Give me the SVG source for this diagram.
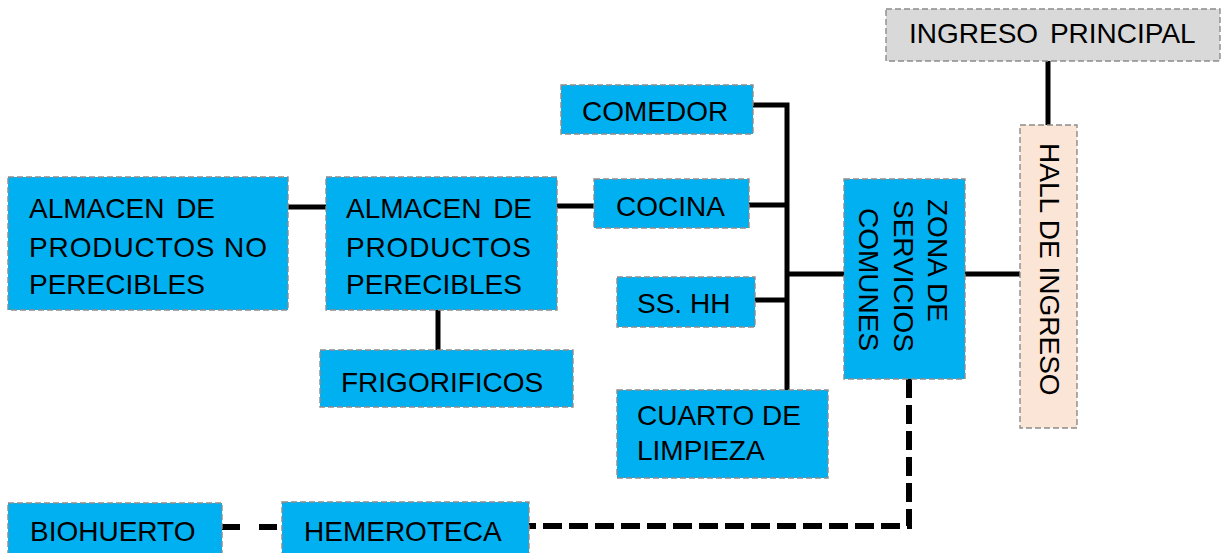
<svg xmlns="http://www.w3.org/2000/svg" width="1221" height="553" viewBox="0 0 1221 553">
<style>
.box{stroke:#8c8c8c;stroke-width:1.4;stroke-dasharray:6,3}
.blue{fill:#00B0F0}
.gray{fill:#D9D9D9}
.peach{fill:#FBE5D6}
.t{font-family:"Liberation Sans",Arial,sans-serif;font-size:28px;fill:#000}
.c{stroke:#000;stroke-width:5;fill:none}
.d{stroke:#000;stroke-width:6;fill:none}
</style>
<rect width="1221" height="553" fill="#fff"/>
<g id="connectors">
<path class="c" d="M1048,61 V125"/>
<path class="c" d="M965,274 H1020"/>
<path class="c" d="M787,274 H844"/>
<path class="c" d="M753,105 H787 V390"/>
<path class="c" d="M749,205 H787"/>
<path class="c" d="M755,300 H787"/>
<path class="c" d="M288,207 H326"/>
<path class="c" d="M557,206 H594"/>
<path class="c" d="M438,310 V350"/>
<path class="d" d="M909,379 V526 H529" stroke-dasharray="19,7"/>
<path class="d" d="M222,527 H282" stroke-dasharray="18,19"/>
</g>
<g id="ingreso-principal">
<rect class="box gray" x="886" y="9" width="334" height="52"/>
<text class="t" x="909" y="43" word-spacing="4">INGRESO PRINCIPAL</text>
</g>
<g id="hall-ingreso">
<rect class="box peach" x="1020" y="125" width="57" height="303"/>
<text class="t" transform="translate(1040,143) rotate(90)">HALL DE INGRESO</text>
</g>
<g id="zona-servicios">
<rect class="box blue" x="844" y="179" width="121" height="200"/>
<text class="t" transform="translate(928,199) rotate(90)">ZONA DE</text>
<text class="t" transform="translate(894,200) rotate(90)">SERVICIOS</text>
<text class="t" transform="translate(859,208) rotate(90)">COMUNES</text>
</g>
<g id="comedor">
<rect class="box blue" x="561" y="85" width="192" height="49"/>
<text class="t" x="582" y="121">COMEDOR</text>
</g>
<g id="cocina">
<rect class="box blue" x="594" y="179" width="155" height="49"/>
<text class="t" x="616" y="216">COCINA</text>
</g>
<g id="sshh">
<rect class="box blue" x="617" y="277" width="138" height="50"/>
<text class="t" x="637" y="313">SS. HH</text>
</g>
<g id="cuarto-limpieza">
<rect class="box blue" x="617" y="390" width="211" height="88"/>
<text class="t" x="637" y="425">CUARTO DE</text>
<text class="t" x="637" y="460">LIMPIEZA</text>
</g>
<g id="almacen-no-perecibles">
<rect class="box blue" x="8" y="177" width="280" height="133"/>
<text class="t" x="29" y="218" word-spacing="4">ALMACEN DE</text>
<text class="t" x="29" y="257" textLength="238" lengthAdjust="spacing">PRODUCTOS NO</text>
<text class="t" x="29" y="294">PERECIBLES</text>
</g>
<g id="almacen-perecibles">
<rect class="box blue" x="326" y="177" width="231" height="133"/>
<text class="t" x="346" y="218" word-spacing="4">ALMACEN DE</text>
<text class="t" x="346" y="257" textLength="185" lengthAdjust="spacing">PRODUCTOS</text>
<text class="t" x="346" y="294">PERECIBLES</text>
</g>
<g id="frigorificos">
<rect class="box blue" x="320" y="350" width="253" height="57"/>
<text class="t" x="341" y="392">FRIGORIFICOS</text>
</g>
<g id="biohuerto">
<rect class="box blue" x="8" y="503" width="214" height="60"/>
<text class="t" x="30" y="541">BIOHUERTO</text>
</g>
<g id="hemeroteca">
<rect class="box blue" x="282" y="502" width="247" height="60"/>
<text class="t" x="304" y="541">HEMEROTECA</text>
</g>
</svg>
